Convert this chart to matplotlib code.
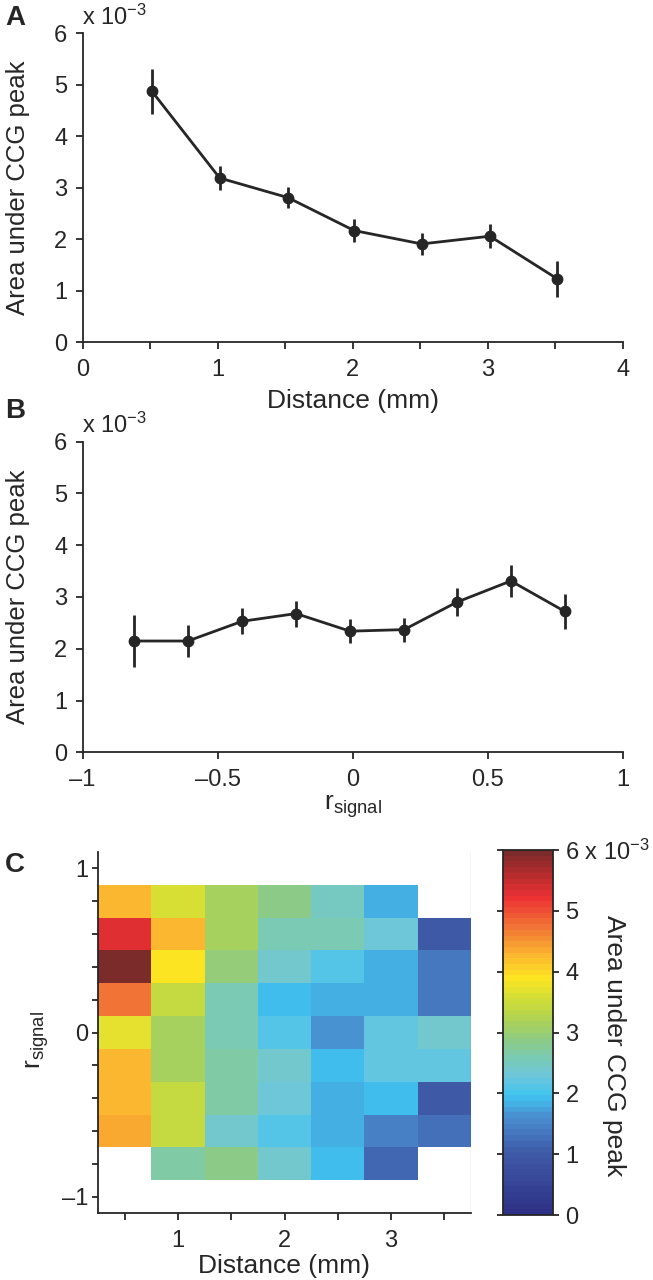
#!/usr/bin/env python3
"""CCG peak area vs distance / r_signal, plus 2-D map (panels A-C)."""
import numpy as np
import matplotlib
matplotlib.use('Agg')
import matplotlib.pyplot as plt
from matplotlib.colors import LinearSegmentedColormap

# --- Style ---
plt.rcParams.update({
    'font.family': ['Liberation Sans', 'DejaVu Sans'],
    'font.size': 17,
    'mathtext.fontset': 'custom',
    'mathtext.rm': 'Liberation Sans',
    'mathtext.it': 'Liberation Sans',
    'axes.linewidth': 1.3,
    'axes.edgecolor': '#262626',
    'xtick.color': '#262626',
    'ytick.color': '#262626',
    'text.color': '#262626',
    'axes.labelcolor': '#262626',
})

# --- Data (values in units of 1e-3) ---
dist_mm = [0.515, 1.015, 1.52, 2.01, 2.51, 3.015, 3.515]
area_dist = [4.87, 3.19, 2.81, 2.17, 1.91, 2.06, 1.23]
err_dist = [0.43, 0.24, 0.20, 0.22, 0.22, 0.23, 0.35]

r_signal = [-0.81, -0.61, -0.41, -0.21, -0.01, 0.19, 0.385, 0.585, 0.785]
area_r = [2.15, 2.15, 2.53, 2.68, 2.34, 2.37, 2.90, 3.31, 2.72]
err_r = [0.51, 0.31, 0.25, 0.25, 0.23, 0.23, 0.27, 0.31, 0.33]

map_dist = [0.5, 1.0, 1.5, 2.0, 2.5, 3.0, 3.5]
map_r = [0.8, 0.6, 0.4, 0.2, 0.0, -0.2, -0.4, -0.6, -0.8]
nan = np.nan
map_area = [
    [4.30, 3.60, 3.10, 2.90, 2.45, 1.85, nan],
    [5.25, 4.30, 3.10, 2.60, 2.55, 2.25, 1.00],
    [5.95, 3.90, 2.95, 2.35, 2.15, 1.85, 1.35],
    [4.75, 3.40, 2.55, 1.95, 1.85, 1.85, 1.35],
    [3.70, 3.10, 2.55, 2.10, 1.65, 2.20, 2.40],
    [4.30, 3.10, 2.65, 2.35, 1.95, 2.20, 2.20],
    [4.30, 3.40, 2.65, 2.30, 1.80, 1.95, 1.00],
    [4.35, 3.40, 2.40, 2.15, 1.80, 1.45, 1.30],
    [nan, 2.65, 2.90, 2.40, 1.95, 1.20, nan],
]

# colormap sampled from the colorbar
cmap_pts = [
    (0.0, '#2e3185'), (1.0 / 6, '#3f5ba8'), (1.6 / 6, '#4a8fd0'),
    (1.95 / 6, '#3ec4f0'), (2.25 / 6, '#6cc7dc'), (2.6 / 6, '#7ccab0'),
    (2.9 / 6, '#8ecb80'), (3.3 / 6, '#b8d548'), (3.6 / 6, '#d6df35'),
    (3.9 / 6, '#fde523'), (4.3 / 6, '#fbb52f'), (4.75 / 6, '#f17535'),
    (5.25 / 6, '#ec3033'), (5.65 / 6, '#b32b2d'), (1.0, '#7c2b2b'),
]
cmap = LinearSegmentedColormap.from_list('ccg', cmap_pts, N=64)

W, H = 653, 1280
fig = plt.figure(figsize=(W / 100, H / 100), dpi=100)


def box(x0, y0, x1, y1):
    # pixel box (top-left origin) -> figure fraction rect
    return [x0 / W, 1 - y1 / H, (x1 - x0) / W, (y1 - y0) / H]


LINE = '#262626'


def style_line_axes(ax):
    for s in ['top', 'right']:
        ax.spines[s].set_visible(False)
    ax.tick_params(which='both', direction='out', length=5, width=1.3, pad=6)
    ax.tick_params(axis='x', which='both', pad=7)


def x10(ax):
    ax.text(0.0, 1.028, r'x 10$^{\mathregular{-3}}$', transform=ax.transAxes,
            ha='left', va='baseline', fontsize=17)


# --- Panel A ---
axA = fig.add_axes(box(82.5, 33.3, 623, 342.3))
axA.errorbar(dist_mm, area_dist, yerr=err_dist, color=LINE, lw=2.0,
             elinewidth=2.0, capsize=0, marker='o', ms=7.5, clip_on=False)
axA.set_xlim(0, 4)
axA.set_ylim(0, 6)
axA.set_xticks([0, 1, 2, 3, 4])
axA.set_xticks([0.5, 1.5, 2.5, 3.5], minor=True)
axA.set_yticks(range(7))
axA.set_xlabel('Distance (mm)', fontsize=19, labelpad=6)
axA.set_ylabel('Area under CCG peak', fontsize=18.5)
axA.yaxis.set_label_coords(-0.098, 0.5)
style_line_axes(axA)
x10(axA)

# --- Panel B ---
axB = fig.add_axes(box(82.5, 441.7, 623, 752.3))
axB.errorbar(r_signal, area_r, yerr=err_r, color=LINE, lw=2.0,
             elinewidth=2.0, capsize=0, marker='o', ms=7.5, clip_on=False)
axB.set_xlim(-1, 1)
axB.set_ylim(0, 6)
axB.set_xticks([-1, -0.5, 0, 0.5, 1])
axB.set_xticklabels(['\u20131', '\u20130.5', '0', '0.5', '1'])
axB.set_yticks(range(7))
axB.set_xlabel(r'$\mathregular{r_{signal}}$', fontsize=19, labelpad=2)
axB.set_ylabel('Area under CCG peak', fontsize=18.5)
axB.yaxis.set_label_coords(-0.098, 0.5)
style_line_axes(axB)
x10(axB)

# --- Panel C ---
axC = fig.add_axes(box(98, 852, 471, 1213))
xe = np.append(np.array(map_dist) - 0.25, map_dist[-1] + 0.25)
ye = np.append(np.array(map_r) + 0.1, map_r[-1] - 0.1)
mesh = axC.pcolormesh(xe, ye, np.ma.masked_invalid(np.array(map_area)),
                      cmap=cmap, vmin=0, vmax=6, shading='flat')
axC.set_xlim(0.25, 3.75)
axC.set_ylim(-1.1, 1.1)
axC.set_xticks([1, 2, 3])
axC.set_xticks([0.5, 1.5, 2.5, 3.5], minor=True)
axC.set_yticks([-1, 0, 1])
axC.set_yticklabels(['\u20131', '0', '1'])
axC.set_yticks(np.arange(-0.8, 0.81, 0.2), minor=True)
axC.set_xlabel('Distance (mm)', fontsize=19, labelpad=2)
style_line_axes(axC)
axC.tick_params(axis='y', which='both', length=4, pad=3)
axC.set_ylabel(r'$\mathregular{r_{signal}}$', fontsize=19)
axC.yaxis.set_label_coords(-0.125, 0.48)
axC.axvline(3.75, color='#3040a0', lw=0.8)

# colorbar
cax = fig.add_axes(box(503, 850, 553, 1215))
cb = fig.colorbar(mesh, cax=cax)
cb.outline.set_linewidth(1.3)
cb.outline.set_edgecolor(LINE)
cb.set_ticks(range(7))
cb.set_ticklabels(['0', '1', '2', '3', '4', '5', r'6 x 10$^{\mathregular{-3}}$'])
cax.tick_params(direction='out', length=4, width=1.3, left=True, right=True,
                labelsize=17, pad=5)
fig.text(614 / W, 1 - 1046 / H, 'Area under CCG peak', fontsize=19,
         rotation=-90, ha='center', va='center')

# panel letters
for letter, y in [('A', 25), ('B', 418), ('C', 872)]:
    fig.text(5 / W, 1 - y / H, letter, fontsize=20, fontweight='bold',
             ha='left', va='baseline')

fig.savefig('out.png', dpi=100)
